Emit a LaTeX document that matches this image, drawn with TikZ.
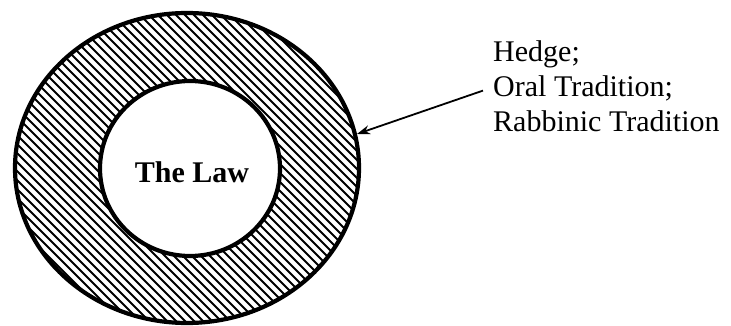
\documentclass[tikz,border=0pt]{standalone}
\usepackage{fontspec}
\setmainfont{Liberation Serif}
\usetikzlibrary{arrows.meta}
\begin{document}
\begin{tikzpicture}[x=1pt,y=1pt,
  ringline/.style={line width=4.2pt},
  hatchline/.style={line width=2.1pt},
  labeltext/.style={font=\fontsize{30}{35}\selectfont, inner sep=0pt, anchor=base west},
  pointer/.style={line width=1.8pt, -{Stealth[length=13pt,width=9pt]}}
]
\useasboundingbox (0,0) rectangle (731,325);
\fill[white] (0,0) rectangle (731,325);
% hatched ring
\begin{scope}
  \clip (187,157) ellipse [x radius=172, y radius=155];
  \foreach \c in {0,9,...,720} {
    \draw[hatchline] (\c-400,400) -- (\c+400,-400);
  }
\end{scope}
\fill[white] (190,156.5) ellipse [x radius=90, y radius=87.5];
\draw[ringline] (187,157) ellipse [x radius=172, y radius=155];
\draw[ringline] (190,156.5) ellipse [x radius=90, y radius=87.5];
\node[font=\fontsize{30}{35}\selectfont\bfseries, inner sep=0pt, anchor=base] (law) at (192,143) {The Law};
% label
\node[labeltext] (hedge) at (493,263.3) {Hedge;};
\node[labeltext] (oral) at (493,228.3) {Oral Tradition;};
\node[labeltext] (rabb) at (493,193.3) {Rabbinic Tradition};
\coordinate (tip) at (357,191);
\draw[pointer] ([xshift=-10pt,yshift=-2pt]oral.west) -- (tip);
\end{tikzpicture}
\end{document}
